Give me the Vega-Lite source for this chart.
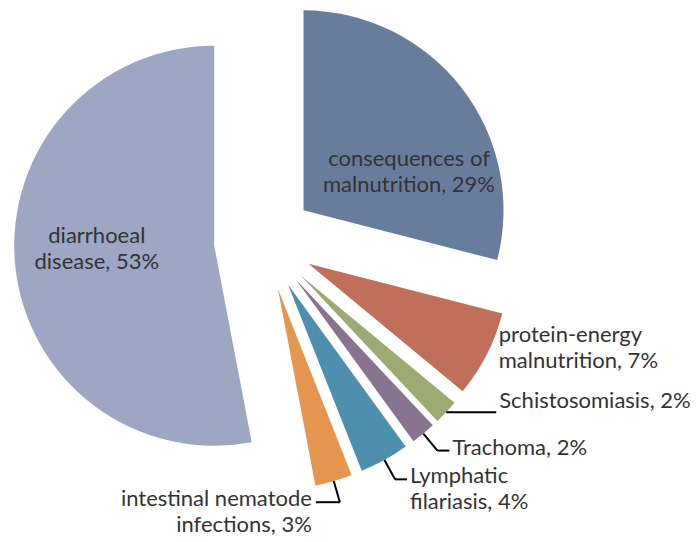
{
  "$schema": "https://vega.github.io/schema/vega-lite/v6.json",
  "width": 697,
  "height": 542,
  "padding": 0,
  "autosize": "none",
  "background": "white",
  "config": {"view": {"stroke": null}},
  "params": [
    {"name": "cx", "value": 264},
    {"name": "cy", "value": 241},
    {"name": "R", "value": 200},
    {"name": "ex", "value": 50}
  ],
  "data": {
    "values": [
      {"ord": 1, "cause": "consequences of malnutrition", "pct": 29, "label": "consequences of\nmalnutrition, 29%"},
      {"ord": 2, "cause": "protein-energy malnutrition", "pct": 7, "label": "protein-energy\nmalnutrition, 7%"},
      {"ord": 3, "cause": "Schistosomiasis", "pct": 2, "label": "Schistosomiasis, 2%"},
      {"ord": 4, "cause": "Trachoma", "pct": 2, "label": "Trachoma, 2%"},
      {"ord": 5, "cause": "Lymphatic filariasis", "pct": 4, "label": "Lymphatic\nfilariasis, 4%"},
      {"ord": 6, "cause": "intestinal nematode infections", "pct": 3, "label": "intestinal nematode\ninfections, 3%"},
      {"ord": 7, "cause": "diarrhoeal disease", "pct": 53, "label": "diarrhoeal\ndisease, 53%"}
    ]
  },
  "transform": [
    {"joinaggregate": [{"op": "sum", "field": "pct", "as": "total"}]},
    {"stack": "pct", "groupby": [], "sort": [{"field": "ord", "order": "ascending"}], "as": ["a0", "a1"]}
  ],
  "layer": [
    {
      "mark": {"type": "arc", "outerRadius": 200, "innerRadius": 0},
      "encoding": {
        "theta": {"field": "pct", "type": "quantitative", "stack": true},
        "order": {"field": "ord", "type": "quantitative", "sort": "ascending"},
        "color": {
          "field": "cause",
          "type": "nominal",
          "legend": null,
          "scale": {
            "domain": ["consequences of malnutrition", "protein-energy malnutrition", "Schistosomiasis", "Trachoma", "Lymphatic filariasis", "intestinal nematode infections", "diarrhoeal disease"],
            "range": ["#687D9C", "#C0705A", "#9DAB72", "#88748F", "#4E8FAE", "#E59650", "#9DA6C3"]
          }
        },
        "x": {"value": {"expr": "cx + ex*sin(PI*(datum.a0+datum.a1)/datum.total)"}},
        "y": {"value": {"expr": "cy - ex*cos(PI*(datum.a0+datum.a1)/datum.total)"}}
      }
    },
    {
      "transform": [{"filter": "datum.pct >= 10"}],
      "mark": {"type": "text", "align": "center", "baseline": "middle", "dy": 2, "font": "Lato", "fontSize": 22, "lineHeight": 26, "lineBreak": "\n", "color": "#333333"},
      "encoding": {
        "text": {"field": "label", "type": "nominal"},
        "x": {"value": {"expr": "cx + ex*sin(PI*(datum.a0+datum.a1)/datum.total) + 118*sin(PI*(datum.a0+datum.a1)/datum.total + 0.195)"}},
        "y": {"value": {"expr": "cy - ex*cos(PI*(datum.a0+datum.a1)/datum.total) - 118*cos(PI*(datum.a0+datum.a1)/datum.total + 0.195)"}}
      }
    },
    {
      "transform": [{"filter": "datum.pct >= 5 && datum.pct < 10"}],
      "mark": {"type": "text", "align": "left", "baseline": "middle", "dy": -19, "font": "Lato", "fontSize": 22, "lineHeight": 26, "lineBreak": "\n", "color": "#333333"},
      "encoding": {
        "text": {"field": "label", "type": "nominal"},
        "x": {"value": {"expr": "cx + (ex+R)*sin(PI*(datum.a0+datum.a1)/datum.total) + 12"}},
        "y": {"value": {"expr": "cy - (ex+R)*cos(PI*(datum.a0+datum.a1)/datum.total)"}}
      }
    },
    {
      "transform": [{"filter": "datum.pct < 5"}],
      "mark": {"type": "rule", "color": "#000000", "strokeWidth": 2},
      "encoding": {
        "x": {"value": {"expr": "cx + (ex+R)*sin(PI*(datum.a0+datum.a1)/datum.total)"}},
        "y": {"value": {"expr": "cy - (ex+R)*cos(PI*(datum.a0+datum.a1)/datum.total)"}},
        "x2": {"value": {"expr": "cx + (ex+R+(PI*(datum.a0+datum.a1)/datum.total < 2.36 ? 0 : 22))*sin(PI*(datum.a0+datum.a1)/datum.total)"}},
        "y2": {"value": {"expr": "cy - (ex+R+(PI*(datum.a0+datum.a1)/datum.total < 2.36 ? 0 : 22))*cos(PI*(datum.a0+datum.a1)/datum.total)"}}
      }
    },
    {
      "transform": [{"filter": "datum.pct < 5"}],
      "mark": {"type": "rule", "color": "#000000", "strokeWidth": 2},
      "encoding": {
        "x": {"value": {"expr": "cx + (ex+R+(PI*(datum.a0+datum.a1)/datum.total < 2.36 ? 0 : 22))*sin(PI*(datum.a0+datum.a1)/datum.total)"}},
        "y": {"value": {"expr": "cy - (ex+R+(PI*(datum.a0+datum.a1)/datum.total < 2.36 ? 0 : 22))*cos(PI*(datum.a0+datum.a1)/datum.total)"}},
        "x2": {"value": {"expr": "cx + (ex+R+(PI*(datum.a0+datum.a1)/datum.total < 2.36 ? 0 : 22))*sin(PI*(datum.a0+datum.a1)/datum.total) + (PI*(datum.a0+datum.a1)/datum.total > 2.8 ? -24 : (PI*(datum.a0+datum.a1)/datum.total < 2.36 ? 50 : 12))"}},
        "y2": {"value": {"expr": "cy - (ex+R+(PI*(datum.a0+datum.a1)/datum.total < 2.36 ? 0 : 22))*cos(PI*(datum.a0+datum.a1)/datum.total)"}}
      }
    },
    {
      "transform": [{"filter": "datum.pct < 5 && PI*(datum.a0+datum.a1)/datum.total <= 2.8"}],
      "mark": {"type": "text", "align": "left", "baseline": "top", "dy": -13, "font": "Lato", "fontSize": 22, "lineHeight": 26, "lineBreak": "\n", "color": "#333333"},
      "encoding": {
        "text": {"field": "label", "type": "nominal"},
        "x": {"value": {"expr": "cx + (ex+R+(PI*(datum.a0+datum.a1)/datum.total < 2.36 ? 0 : 22))*sin(PI*(datum.a0+datum.a1)/datum.total) + (PI*(datum.a0+datum.a1)/datum.total < 2.36 ? 53 : 15)"}},
        "y": {"value": {"expr": "cy - (ex+R+(PI*(datum.a0+datum.a1)/datum.total < 2.36 ? 0 : 22))*cos(PI*(datum.a0+datum.a1)/datum.total) - (PI*(datum.a0+datum.a1)/datum.total < 2.36 ? 8 : 0)"}}
      }
    },
    {
      "transform": [{"filter": "datum.pct < 5 && PI*(datum.a0+datum.a1)/datum.total > 2.8"}],
      "mark": {"type": "text", "align": "right", "baseline": "top", "dy": -13, "font": "Lato", "fontSize": 22, "lineHeight": 26, "lineBreak": "\n", "color": "#333333"},
      "encoding": {
        "text": {"field": "label", "type": "nominal"},
        "x": {"value": {"expr": "cx + (ex+R+22)*sin(PI*(datum.a0+datum.a1)/datum.total) - 28"}},
        "y": {"value": {"expr": "cy - (ex+R+22)*cos(PI*(datum.a0+datum.a1)/datum.total)"}}
      }
    }
  ]
}
